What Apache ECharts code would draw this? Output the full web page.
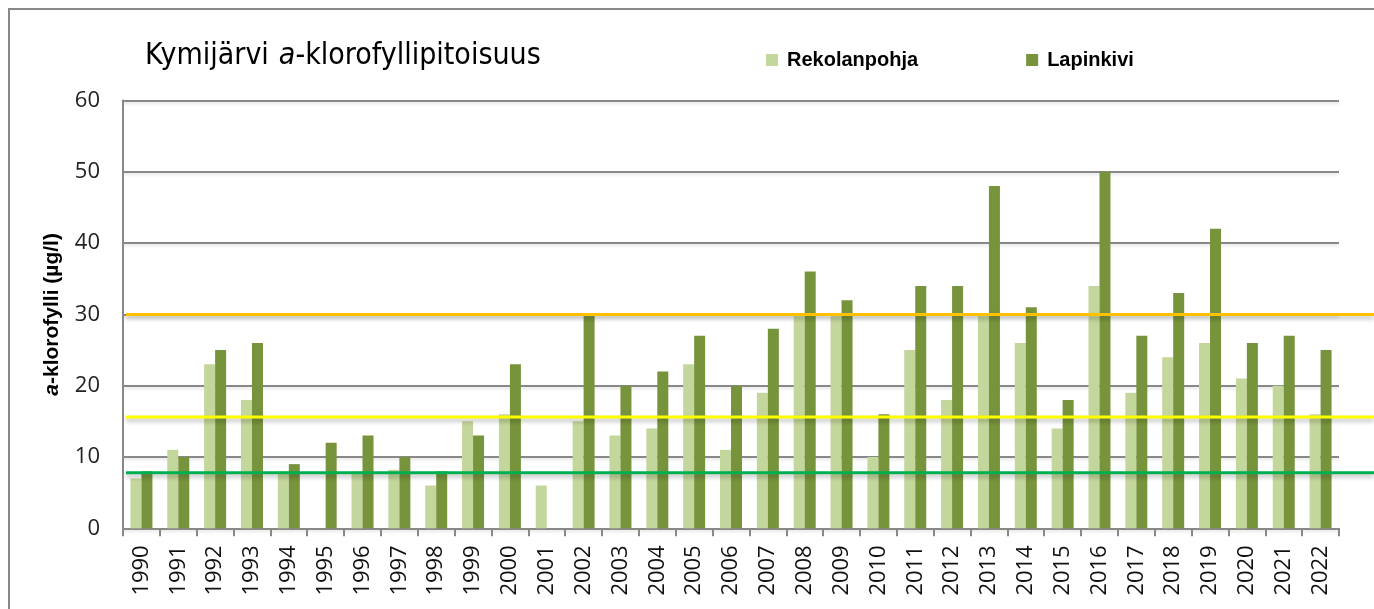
<!DOCTYPE html>
<html>
<head>
<meta charset="utf-8">
<title>Kymijärvi a-klorofyllipitoisuus</title>
<script src="https://cdn.jsdelivr.net/npm/echarts@6/dist/echarts.min.js"></script>
<style>
    html, body { margin: 0; padding: 0; background: #fff; }
    #chart { width: 1374px; height: 609px; }
</style>
</head>
<body>
<div id="chart"></div>
<script>
    // years on the x axis
    let years = ['1990', '1991', '1992', '1993', '1994', '1995', '1996', '1997', '1998', '1999',
        '2000', '2001', '2002', '2003', '2004', '2005', '2006', '2007', '2008', '2009',
        '2010', '2011', '2012', '2013', '2014', '2015', '2016', '2017', '2018', '2019',
        '2020', '2021', '2022'];

    // a-klorofylli µg/l
    let rekolanpohja = [7, 11, 23, 18, 8, null, 8, 8.2, 6, 15,
        16, 6, 15, 13, 14, 23, 11, 19, 30, 30,
        10, 25, 18, 30, 26, 14, 34, 19, 24, 26,
        21, 20, 16];
    let lapinkivi = [8, 10, 25, 26, 9, 12, 13, 10, 8, 13,
        23, null, 30, 20, 22, 27, 20, 28, 36, 32,
        16, 34, 34, 48, 31, 18, 50, 27, 33, 42,
        26, 27, 25];

    // class limits drawn across the chart
    let limitValues = [30, 15.6, 7.8];
    let limitColors = ['#FFC000', '#FFFF00', '#00B050'];

    let yTicks = [0, 60, 10]; // min, max, interval

    let sansFont = "'Liberation Sans', Arial, sans-serif";
    let narrowFont = "'DejaVu Sans Condensed', 'Liberation Sans Narrow', sans-serif";
    let tickFont = "'Open Sans', 'Noto Sans', sans-serif";
    let gray = '#888888';

    let chart = echarts.init(document.getElementById('chart'));

    let limitSeries = limitValues.map(function (v, i) {
        return {
            type: 'line',
            xAxisIndex: 1,
            yAxisIndex: 1,
            symbol: 'none',
            silent: true,
            z: 5,
            data: [[0, v], [1, v]],
            lineStyle: {
                color: limitColors[i],
                width: 3,
                shadowColor: 'rgba(0,0,0,0.28)',
                shadowBlur: 4,
                shadowOffsetY: 3
            }
        };
    });

    let option = {
        animation: false,
        title: {
            text: '{n|Kymijärvi}  {i|a}{n|-klorofyllipitoisuus}',
            left: 140,
            top: 36,
            textStyle: {
                fontWeight: 'normal',
                rich: {
                    n: { fontFamily: narrowFont, fontSize: 30, fontWeight: 'normal', color: '#000' },
                    i: { fontFamily: narrowFont, fontSize: 30, fontWeight: 'normal', fontStyle: 'italic', color: '#000' }
                }
            }
        },
        legend: {
            data: ['Rekolanpohja', 'Lapinkivi'],
            left: 761,
            top: 45,
            icon: 'rect',
            itemWidth: 12,
            itemHeight: 12,
            itemGap: 108,
            textStyle: {
                fontFamily: sansFont,
                fontSize: 20,
                fontWeight: 'bold',
                color: '#000',
                padding: [0, 0, 0, 4]
            }
        },
        graphic: [{
            type: 'rect',
            shape: { x: 9, y: 9, width: 1500, height: 800 },
            style: { fill: 'none', stroke: gray, lineWidth: 2 },
            silent: true
        }],
        grid: [
            { left: 123, right: 35, top: 100.5, bottom: 80.7 },
            { left: 126, right: 0, top: 100.5, bottom: 80.7 }
        ],
        xAxis: [{
            type: 'category',
            gridIndex: 0,
            data: years,
            axisLine: { lineStyle: { color: gray, width: 2 } },
            axisTick: { show: true, length: 8, lineStyle: { color: gray, width: 2 } },
            axisLabel: {
                rotate: 90,
                margin: 17,
                interval: 0,
                fontFamily: tickFont,
                fontSize: 22,
                color: '#111'
            }
        }, {
            type: 'value',
            gridIndex: 1,
            min: 0,
            max: 1,
            show: false
        }],
        yAxis: [{
            type: 'value',
            gridIndex: 0,
            min: yTicks[0],
            max: yTicks[1],
            interval: yTicks[2],
            name: '{i|a}{b|-klorofylli (µg/l)}',
            nameLocation: 'middle',
            nameGap: 60,
            nameTextStyle: {
                rich: {
                    i: { fontFamily: sansFont, fontSize: 21, fontWeight: 'bold', fontStyle: 'italic', color: '#000' },
                    b: { fontFamily: sansFont, fontSize: 21, fontWeight: 'bold', color: '#000' }
                }
            },
            axisLine: { show: true, lineStyle: { color: gray, width: 2 } },
            axisTick: { show: false },
            splitLine: {
                show: true,
                lineStyle: {
                    color: gray,
                    width: 2,
                    shadowColor: 'rgba(0,0,0,0.12)',
                    shadowBlur: 3,
                    shadowOffsetY: 2
                }
            },
            axisLabel: {
                margin: 23,
                fontFamily: tickFont,
                fontSize: 22,
                color: '#222'
            }
        }, {
            type: 'value',
            gridIndex: 1,
            min: yTicks[0],
            max: yTicks[1],
            show: false
        }],
        series: [{
            name: 'Rekolanpohja',
            type: 'bar',
            barWidth: 11,
            barGap: '0%',
            itemStyle: { color: '#C3D69B' },
            data: rekolanpohja
        }, {
            name: 'Lapinkivi',
            type: 'bar',
            barWidth: 11,
            barGap: '0%',
            itemStyle: { color: '#77933C' },
            data: lapinkivi
        }].concat(limitSeries)
    };

    chart.setOption(option, true);
    window.onresize = () => {
        chart.resize();
    };
</script>
</body>
</html>
